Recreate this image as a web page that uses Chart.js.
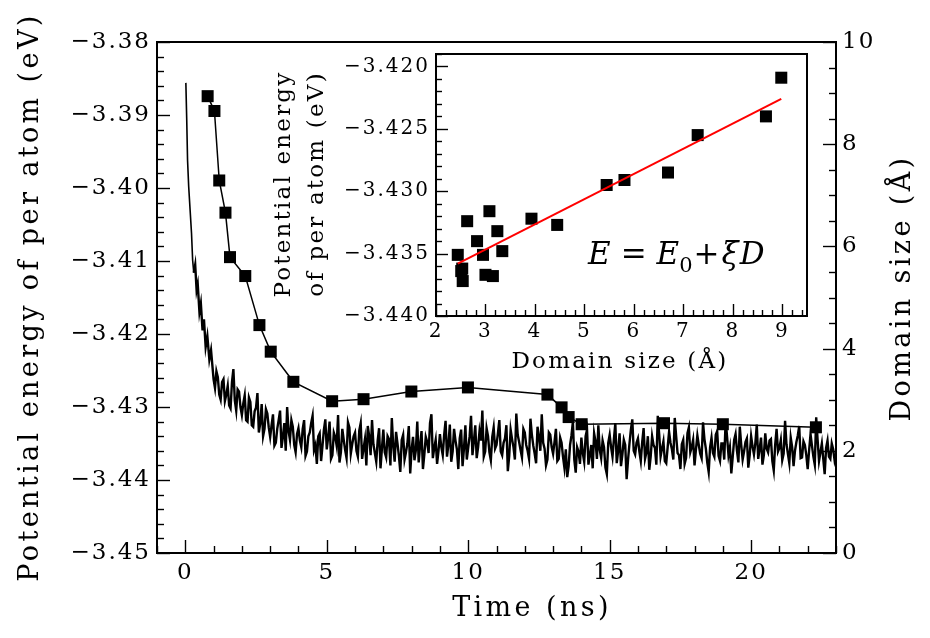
<!DOCTYPE html>
<html>
<head>
<meta charset="utf-8">
<script src="https://cdn.jsdelivr.net/npm/chart.js@4.4.1/dist/chart.umd.min.js"></script>
<style>
  html, body { margin: 0; padding: 0; background: #fff; }
  #wrap { position: relative; width: 930px; height: 638px; }
  #main { position: absolute; left: 0; top: 0; }
  #inset { position: absolute; left: 260px; top: 36px; }
</style>
</head>
<body>
<div id="wrap">
  <canvas id="main" width="930" height="638"></canvas>
  <canvas id="inset" width="570" height="350"></canvas>
</div>
<script>
// ---- data ----

// domain size (right axis) vs time
const domainTime = [0.79, 1.03, 1.20, 1.42, 1.58, 2.12, 2.62, 3.02, 3.82, 5.19, 6.30, 7.99, 9.99, 12.80, 13.30, 13.55, 14.01, 16.92, 19.00, 22.29];
const domainSize = [8.94, 8.65, 7.29, 6.66, 5.79, 5.42, 4.46, 3.94, 3.35, 2.97, 3.01, 3.16, 3.24, 3.10, 2.85, 2.66, 2.52, 2.54, 2.52, 2.46];

// potential energy, steep start (irregular times)
const energyHeadTime = [0.02, 0.05, 0.08, 0.12, 0.17, 0.22, 0.26, 0.30, 0.35, 0.40, 0.44, 0.50, 0.55, 0.61, 0.66, 0.72, 0.78, 0.85, 0.91];
const energyHead = [-3.3856, -3.3905, -3.3962, -3.3998, -3.4030, -3.4062, -3.4099, -3.4116, -3.4105, -3.4140, -3.4132, -3.4170, -3.4158, -3.4195, -3.4180, -3.4218, -3.4203, -3.4235, -3.4222];

// potential energy at 1.0, 1.1, ... 23.0 ns
const energyTailStart = 1.0;
const energyTailStep = 0.1;
const energyTail = [
  -3.4262, -3.4251, -3.4283, -3.4266, -3.4292, -3.4271, -3.4302, -3.4248, -3.4305, -3.4279,
  -3.4311, -3.4284, -3.4320, -3.4293, -3.4327, -3.4301, -3.4335, -3.4296, -3.4330, -3.4309,
  -3.4341, -3.4310, -3.4349, -3.4318, -3.4356, -3.4322, -3.4300, -3.4345, -3.4327, -3.4362,
  -3.4329, -3.4355, -3.4318, -3.4361, -3.4335, -3.4312, -3.4352, -3.4340, -3.4374, -3.4331,
  -3.4358, -3.4320, -3.4366, -3.4341, -3.4311, -3.4362, -3.4345, -3.4370, -3.4328, -3.4351,
  -3.4335, -3.4368, -3.4322, -3.4357, -3.4380, -3.4340, -3.4318, -3.4363, -3.4346, -3.4384,
  -3.4331, -3.4369, -3.4344, -3.4315, -3.4375, -3.4350, -3.4389, -3.4338, -3.4362, -3.4326,
  -3.4358, -3.4373, -3.4320, -3.4352, -3.4385, -3.4341, -3.4363, -3.4310, -3.4356, -3.4378,
  -3.4337, -3.4366, -3.4319, -3.4352, -3.4375, -3.4330, -3.4358, -3.4343, -3.4381, -3.4325,
  -3.4356, -3.4312, -3.4347, -3.4370, -3.4333, -3.4305, -3.4361, -3.4340, -3.4373, -3.4328,
  -3.4352, -3.4318, -3.4366, -3.4343, -3.4388, -3.4331, -3.4355, -3.4309, -3.4348, -3.4369,
  -3.4335, -3.4360, -3.4316, -3.4353, -3.4377, -3.4341, -3.4310, -3.4357, -3.4372, -3.4338,
  -3.4364, -3.4330, -3.4371, -3.4349, -3.4383, -3.4396, -3.4352, -3.4320, -3.4390, -3.4361,
  -3.4342, -3.4375, -3.4331, -3.4366, -3.4384, -3.4347, -3.4325, -3.4370, -3.4355, -3.4392,
  -3.4338, -3.4368, -3.4322, -3.4360, -3.4381, -3.4345, -3.4399, -3.4350, -3.4317, -3.4365,
  -3.4343, -3.4374, -3.4329, -3.4362, -3.4386, -3.4340, -3.4356, -3.4312, -3.4368, -3.4347,
  -3.4377, -3.4334, -3.4358, -3.4315, -3.4363, -3.4385, -3.4345, -3.4370, -3.4328, -3.4355,
  -3.4380, -3.4339, -3.4364, -3.4321, -3.4357, -3.4389, -3.4342, -3.4368, -3.4333, -3.4374,
  -3.4350, -3.4318, -3.4366, -3.4391, -3.4345, -3.4360, -3.4327, -3.4372, -3.4348, -3.4383,
  -3.4340, -3.4365, -3.4324, -3.4358, -3.4379, -3.4336, -3.4362, -3.4344, -3.4387, -3.4330,
  -3.4356, -3.4373, -3.4319, -3.4364, -3.4342, -3.4381, -3.4348, -3.4326, -3.4369, -3.4352,
  -3.4385, -3.4337, -3.4368, -3.4314, -3.4374, -3.4350, -3.4392, -3.4346, -3.4371, -3.4358,
  -3.4364
];
// potential energy at 1.05, 1.15, ... 22.95 ns
const energyTailMid = [
  -3.4274, -3.4259, -3.4290, -3.4262, -3.4283, -3.4298, -3.4266, -3.4291, -3.4276, -3.4300,
  -3.4295, -3.4318, -3.4287, -3.4325, -3.4306, -3.4281, -3.4322, -3.4340, -3.4303, -3.4328,
  -3.4325, -3.4353, -3.4330, -3.4305, -3.4341, -3.4360, -3.4333, -3.4318, -3.4352, -3.4337,
  -3.4346, -3.4330, -3.4367, -3.4340, -3.4322, -3.4359, -3.4378, -3.4336, -3.4353, -3.4317,
  -3.4342, -3.4371, -3.4335, -3.4353, -3.4376, -3.4330, -3.4359, -3.4321, -3.4364, -3.4340,
  -3.4360, -3.4332, -3.4371, -3.4344, -3.4326, -3.4366, -3.4351, -3.4375, -3.4329, -3.4357,
  -3.4362, -3.4340, -3.4380, -3.4353, -3.4334, -3.4367, -3.4345, -3.4372, -3.4350, -3.4391,
  -3.4341, -3.4359, -3.4376, -3.4333, -3.4365, -3.4348, -3.4322, -3.4370, -3.4345, -3.4360,
  -3.4355, -3.4338, -3.4368, -3.4324, -3.4361, -3.4346, -3.4385, -3.4331, -3.4357, -3.4372,
  -3.4340, -3.4366, -3.4325, -3.4355, -3.4346, -3.4368, -3.4329, -3.4362, -3.4341, -3.4357,
  -3.4336, -3.4361, -3.4349, -3.4325, -3.4367, -3.4344, -3.4372, -3.4338, -3.4359, -3.4330,
  -3.4352, -3.4371, -3.4338, -3.4364, -3.4327, -3.4360, -3.4349, -3.4380, -3.4335, -3.4355,
  -3.4348, -3.4374, -3.4342, -3.4368, -3.4358, -3.4381, -3.4339, -3.4372, -3.4355, -3.4378,
  -3.4363, -3.4340, -3.4379, -3.4352, -3.4336, -3.4371, -3.4359, -3.4346, -3.4383, -3.4349,
  -3.4355, -3.4344, -3.4377, -3.4336, -3.4365, -3.4352, -3.4372, -3.4331, -3.4360, -3.4349,
  -3.4361, -3.4348, -3.4371, -3.4340, -3.4368, -3.4352, -3.4379, -3.4337, -3.4357, -3.4374,
  -3.4355, -3.4349, -3.4372, -3.4340, -3.4366, -3.4351, -3.4378, -3.4336, -3.4362, -3.4345,
  -3.4358, -3.4352, -3.4370, -3.4344, -3.4376, -3.4355, -3.4363, -3.4338, -3.4367, -3.4350,
  -3.4372, -3.4341, -3.4355, -3.4368, -3.4337, -3.4376, -3.4352, -3.4361, -3.4343, -3.4366,
  -3.4354, -3.4349, -3.4371, -3.4342, -3.4366, -3.4357, -3.4346, -3.4374, -3.4352, -3.4361,
  -3.4345, -3.4364, -3.4351, -3.4377, -3.4355, -3.4360, -3.4339, -3.4370, -3.4347, -3.4366,
  -3.4359, -3.4353, -3.4379, -3.4345, -3.4362, -3.4371, -3.4356, -3.4368, -3.4350, -3.4373
];

// inset: energy vs domain size, plus linear fit
const insetDomain = [2.44, 2.53, 2.51, 2.54, 2.63, 2.83, 2.95, 3.00, 3.15, 3.08, 3.24, 3.34, 3.93, 4.45, 5.45, 5.81, 6.69, 7.29, 8.67, 8.98];
const insetEnergy = [-3.4351, -3.4362, -3.4364, -3.4372, -3.4324, -3.4340, -3.4351, -3.4367, -3.4368, -3.4316, -3.4332, -3.4348, -3.4322, -3.4327, -3.4295, -3.4291, -3.4285, -3.4255, -3.4240, -3.4209];
const fitDomain = [2.44, 8.98];
const fitEnergy = [-3.4358, -3.4226];

// tick labels
const timeTicks = [0, 5, 10, 15, 20];
const energyTicks = [-3.45, -3.44, -3.43, -3.42, -3.41, -3.40, -3.39, -3.38];
const domainTicks = [0, 2, 4, 6, 8, 10];
const insetXTicks = [2, 3, 4, 5, 6, 7, 8, 9];
const insetYTicks = [-3.440, -3.435, -3.430, -3.425, -3.420];

// ---- drawing ----
const FAM = "'DejaVu Serif', serif";
const minus = (v, d) => (v < 0 ? '\u2212' : '') + Math.abs(v).toFixed(d);
const pts = (xs, ys) => xs.map((x, i) => ({ x: x, y: ys[i] }));

const energyData = pts(energyHeadTime, energyHead);
energyTail.forEach((e, i) => {
  const t = energyTailStart + i * energyTailStep;
  energyData.push({ x: t, y: e });
  if (i < energyTailMid.length) energyData.push({ x: t + energyTailStep / 2, y: energyTailMid[i] });
});

function fixTicks(list) {
  return function (s) { s.ticks = list.map(v => ({ value: v })); };
}

function text(ctx, str, x, y, font, spacing, rot) {
  ctx.save();
  ctx.font = font;
  ctx.letterSpacing = spacing + 'px';
  ctx.fillStyle = '#000';
  ctx.textAlign = 'center';
  ctx.textBaseline = 'middle';
  ctx.translate(x, y);
  if (rot) ctx.rotate(rot);
  ctx.fillText(str, 0, 0);
  ctx.restore();
}

// inward ticks + frame
function frameTicks(chart, specs, big, small) {
  const ctx = chart.ctx, a = chart.chartArea;
  ctx.save();
  ctx.strokeStyle = '#000';
  ctx.lineWidth = 1.4;
  specs.forEach(o => {
    const s = chart.scales[o.id];
    const n = Math.round((o.max - o.min) / o.step);
    for (let i = 0; i <= n; i++) {
      const v = o.min + i * o.step;
      const major = o.major.some(m => Math.abs(m - v) < o.step / 10);
      const len = major ? big : small;
      const p = Math.round(s.getPixelForValue(v)) + 0.5;
      ctx.beginPath();
      if (o.side === 'bottom') { ctx.moveTo(p, a.bottom); ctx.lineTo(p, a.bottom - len); }
      if (o.side === 'left') { ctx.moveTo(a.left, p); ctx.lineTo(a.left + len, p); }
      if (o.side === 'right') { ctx.moveTo(a.right, p); ctx.lineTo(a.right - len, p); }
      ctx.stroke();
    }
  });
  ctx.lineWidth = 2;
  ctx.strokeRect(a.left, a.top, a.right - a.left, a.bottom - a.top);
  ctx.restore();
}

const spacingPlugin = {
  id: 'spacing',
  beforeDraw(chart) { chart.ctx.letterSpacing = '2px'; }
};

const mainDecor = {
  id: 'mainDecor',
  afterDraw(chart) {
    frameTicks(chart, [
      { id: 'x', side: 'bottom', min: -1, max: 23, step: 1, major: timeTicks },
      { id: 'y', side: 'left', min: -3.45, max: -3.38, step: 0.002, major: energyTicks },
      { id: 'y2', side: 'right', min: 0, max: 10, step: 0.5, major: domainTicks }
    ], 13, 7);
    const ctx = chart.ctx;
    const f = '27px ' + FAM;
    text(ctx, 'Potential energy of per atom (eV)', 31, 297, f, 3.4, -Math.PI / 2);
    text(ctx, 'Time (ns)', 532, 609, f, 3.4, 0);
    text(ctx, 'Domain size (\u00C5)', 903, 288, f, 3.4, -Math.PI / 2);
  }
};

const tickFont = { family: FAM, size: 23 };

new Chart(document.getElementById('main'), {
  type: 'line',
  data: {
    datasets: [
      {
        data: pts(domainTime, domainSize),
        yAxisID: 'y2',
        borderColor: '#000',
        borderWidth: 1.5,
        pointStyle: 'rect',
        pointRadius: 8.5,
        pointBackgroundColor: '#000',
        pointBorderColor: '#000',
        pointBorderWidth: 0
      },
      {
        data: energyData,
        yAxisID: 'y',
        borderColor: '#000',
        borderWidth: 1.6,
        pointRadius: 0,
        segment: { borderWidth: c => (c.p0.parsed.x < 0.3 ? 1.6 : 2.4) }
      }
    ]
  },
  options: {
    responsive: false,
    animation: false,
    devicePixelRatio: 1,
    layout: { padding: { top: 42, left: 0, right: 0, bottom: 0 } },
    plugins: { legend: { display: false }, tooltip: { enabled: false } },
    scales: {
      x: {
        type: 'linear', min: -1, max: 23,
        grid: { display: false, drawTicks: false }, border: { display: false },
        afterBuildTicks: fixTicks(timeTicks),
        afterFit: s => { s.height = 85; },
        ticks: { color: '#000', font: tickFont, padding: 6, maxRotation: 0, autoSkip: false, callback: v => String(v) }
      },
      y: {
        type: 'linear', position: 'left', min: -3.45, max: -3.38,
        grid: { display: false, drawTicks: false }, border: { display: false },
        afterBuildTicks: fixTicks(energyTicks),
        afterFit: s => { s.width = 157; },
        ticks: { color: '#000', font: tickFont, padding: 6, autoSkip: false, callback: v => minus(v, 2) }
      },
      y2: {
        type: 'linear', position: 'right', min: 0, max: 10,
        grid: { display: false, drawTicks: false }, border: { display: false },
        afterBuildTicks: fixTicks(domainTicks),
        afterFit: s => { s.width = 94; },
        ticks: { color: '#000', font: tickFont, padding: 6, autoSkip: false, callback: v => String(v) }
      }
    }
  },
  plugins: [spacingPlugin, mainDecor]
});

// ---- inset ----
const insetDecor = {
  id: 'insetDecor',
  beforeDraw(chart) {
    const ctx = chart.ctx, a = chart.chartArea;
    ctx.save();
    ctx.fillStyle = '#fff';
    ctx.fillRect(a.left, a.top, a.right - a.left, a.bottom - a.top);
    ctx.restore();
    ctx.letterSpacing = '2px';
  },
  afterDraw(chart) {
    frameTicks(chart, [
      { id: 'x', side: 'bottom', min: 2, max: 9.4, step: 0.2, major: insetXTicks },
      { id: 'y', side: 'left', min: -3.440, max: -3.419, step: 0.001, major: insetYTicks }
    ], 12, 6);
    const ctx = chart.ctx;
    const f = '23px ' + FAM;
    text(ctx, 'Potential energy', 24, 148, f, 2.2, -Math.PI / 2);
    text(ctx, 'of per atom (eV)', 57, 148, f, 2.2, -Math.PI / 2);
    text(ctx, 'Domain size (\u00C5)', 360, 326, f, 2.2, 0);

    // E = E0 + xi D
    const it = 'italic 31px ' + FAM, up = '31px ' + FAM, sub = '21px ' + FAM;
    const parts = [
      { s: 'E', f: it, dy: 0, gap: 10 },
      { s: '=', f: up, dy: 0, gap: 10 },
      { s: 'E', f: it, dy: 0, gap: 0 },
      { s: '0', f: sub, dy: 8, gap: 1 },
      { s: '+', f: up, dy: 0, gap: 2 },
      { s: '\u03BE', f: it, dy: 0, gap: 1 },
      { s: 'D', f: it, dy: 0, gap: 0 }
    ];
    ctx.save();
    ctx.fillStyle = '#000';
    ctx.textBaseline = 'alphabetic';
    ctx.textAlign = 'left';
    ctx.letterSpacing = '0px';
    let x = 328;
    parts.forEach(p => {
      ctx.font = p.f;
      ctx.fillText(p.s, x, 228 + p.dy);
      x += ctx.measureText(p.s).width + p.gap;
    });
    ctx.restore();
  }
};

const insetTickFont = { family: FAM, size: 20 };

new Chart(document.getElementById('inset'), {
  type: 'line',
  data: {
    datasets: [
      {
        data: pts(fitDomain, fitEnergy),
        borderColor: '#ff0000',
        borderWidth: 2,
        pointRadius: 0
      },
      {
        data: pts(insetDomain, insetEnergy),
        showLine: false,
        pointStyle: 'rect',
        pointRadius: 8.5,
        pointBackgroundColor: '#000',
        pointBorderColor: '#000',
        pointBorderWidth: 0
      }
    ]
  },
  options: {
    responsive: false,
    animation: false,
    devicePixelRatio: 1,
    layout: { padding: { top: 14, right: 23, left: 0, bottom: 0 } },
    plugins: { legend: { display: false }, tooltip: { enabled: false } },
    scales: {
      x: {
        type: 'linear', min: 2, max: 9.5,
        grid: { display: false, drawTicks: false }, border: { display: false },
        afterBuildTicks: fixTicks(insetXTicks),
        afterFit: s => { s.height = 70; },
        ticks: { color: '#000', font: insetTickFont, padding: 4, maxRotation: 0, autoSkip: false, callback: v => String(v) }
      },
      y: {
        type: 'linear', min: -3.440, max: -3.419,
        grid: { display: false, drawTicks: false }, border: { display: false },
        afterBuildTicks: fixTicks(insetYTicks),
        afterFit: s => { s.width = 176; },
        ticks: { color: '#000', font: insetTickFont, padding: 6, autoSkip: false, callback: v => minus(v, 3) }
      }
    }
  },
  plugins: [insetDecor]
});
</script>
</body>
</html>
